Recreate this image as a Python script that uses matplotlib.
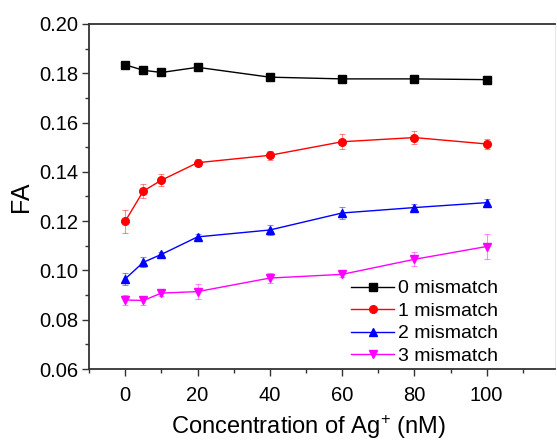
import numpy as np
import matplotlib
matplotlib.use("Agg")
import matplotlib.pyplot as plt
from matplotlib.ticker import MultipleLocator, FixedLocator

plt.rcParams["font.family"] = ["Liberation Sans", "DejaVu Sans"]
plt.rcParams["mathtext.fontset"] = "custom"
plt.rcParams["mathtext.rm"] = "Liberation Sans"
plt.rcParams["mathtext.default"] = "regular"

# ---------------------------------------------------------------------------
# Data
# ---------------------------------------------------------------------------
conc = [0, 5, 10, 20, 40, 60, 80, 100]

fa_0 = [0.1834, 0.1812, 0.1803, 0.1824, 0.1784, 0.1777, 0.1777, 0.1774]
err_0 = [0.0013, 0.0015, 0.0008, 0.0008, 0.0010, 0.0010, 0.0012, 0.0015]

fa_1 = [0.1200, 0.1322, 0.1366, 0.1437, 0.1467, 0.1522, 0.1539, 0.1513]
err_1 = [0.0047, 0.0030, 0.0025, 0.0015, 0.0018, 0.0030, 0.0025, 0.0020]

fa_2 = [0.0966, 0.1033, 0.1065, 0.1136, 0.1164, 0.1233, 0.1255, 0.1275]
err_2 = [0.0025, 0.0020, 0.0010, 0.0010, 0.0020, 0.0025, 0.0015, 0.0015]

fa_3 = [0.0880, 0.0878, 0.0908, 0.0914, 0.0969, 0.0984, 0.1045, 0.1097]
err_3 = [0.0020, 0.0020, 0.0010, 0.0030, 0.0022, 0.0012, 0.0028, 0.0050]

labels = ["0 mismatch", "1 mismatch", "2 mismatch", "3 mismatch"]
x_ticks = [0, 20, 40, 60, 80, 100]

series = [
    (fa_0, err_0, "black", "s"),
    (fa_1, err_1, "#ff0000", "o"),
    (fa_2, err_2, "#0000ff", "^"),
    (fa_3, err_3, "#ff00ff", "v"),
]

fig = plt.figure(figsize=(5.57, 4.43), dpi=100)
# axes run up to the right edge, as in the cropped original
ax = fig.add_axes([0.160, 0.167, 0.837, 0.779])

for (vals, errs, color, marker), label in zip(series, labels):
    ax.errorbar(conc, vals, yerr=errs, fmt="none", ecolor=color,
                elinewidth=0.8, capsize=2.5, capthick=0.8, alpha=0.45)
    ax.plot(conc, vals, color=color, marker=marker, markersize=5.5,
            linewidth=1.0, label=label)

ax.set_xlim(-10, 119)
ax.set_ylim(0.06, 0.20)

ax.xaxis.set_major_locator(FixedLocator(x_ticks))
ax.xaxis.set_minor_locator(MultipleLocator(10))
ax.yaxis.set_major_locator(MultipleLocator(0.02))
ax.yaxis.set_minor_locator(MultipleLocator(0.01))
ax.yaxis.set_major_formatter(plt.FuncFormatter(lambda y, _: f"{y:.2f}"))

ax.tick_params(which="both", direction="out", colors="#333333",
               labelcolor="black", labelsize=14.5, width=1.0)
ax.tick_params(which="major", length=5)
ax.tick_params(which="minor", length=3)
ax.tick_params(axis="x", pad=7)
ax.tick_params(axis="y", pad=3)

for side in ["left", "bottom", "top"]:
    ax.spines[side].set_color("#333333")
    ax.spines[side].set_linewidth(1.3)
ax.spines["right"].set_color("#e8e8e8")
ax.spines["right"].set_linewidth(0.8)

ax.set_xlabel("Concentration of Ag$^{+}$ (nM)", fontsize=17)
ax.xaxis.set_label_coords(0.47, -0.128)
ax.set_ylabel("FA", fontsize=18, labelpad=4)

ax.legend(loc="lower left", bbox_to_anchor=(0.562, 0.012), frameon=False,
          fontsize=14, handlelength=2.2, handletextpad=0.2,
          labelspacing=0.25, borderpad=0, borderaxespad=0)

fig.savefig("out.png", dpi=100)
